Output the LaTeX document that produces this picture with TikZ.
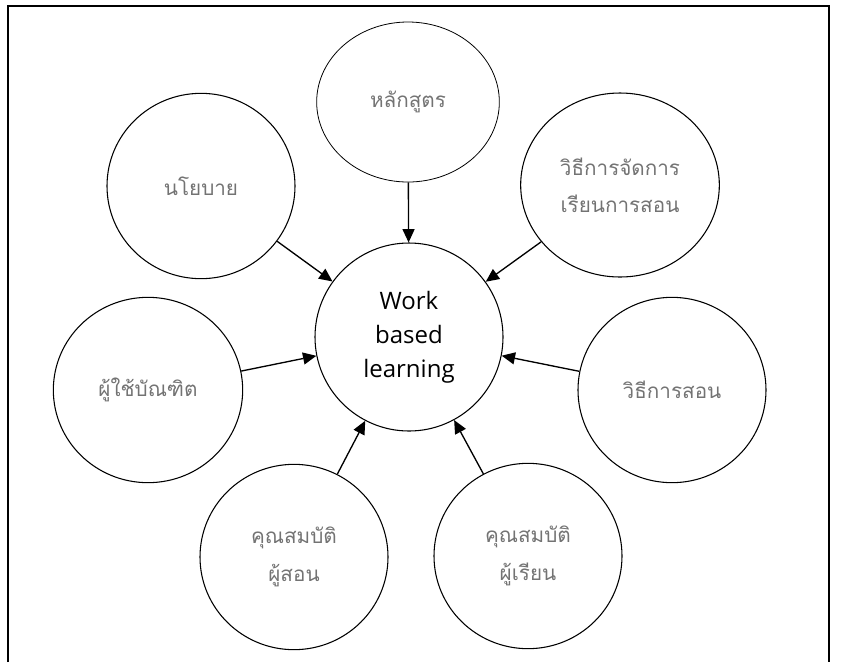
\documentclass[tikz,border=0pt]{standalone}
\usepackage{fontspec}
\setmainfont{Open Sans}
\newfontfamily\thaifont[Script=Thai]{Loma}
\usetikzlibrary{shapes,arrows.meta,positioning}

\begin{document}
\begin{tikzpicture}[
    x=0.75pt, y=-0.75pt,
    factor/.style={ellipse, draw, line width=0.8pt, inner sep=0pt, minimum width=141pt, minimum height=139pt, align=center, font=\thaifont\fontsize{15.5}{28}\selectfont, text=black!55},
    hub/.style={ellipse, draw, line width=0.8pt, inner sep=0pt, minimum width=141pt, minimum height=141pt, align=center, font=\fontsize{18}{25.5}\selectfont},
    arrow/.style={-{Triangle[length=10pt, width=9pt]}, line width=1pt}
]
\useasboundingbox (0,0) rectangle (843,662);

% Frame
\draw[line width=1.6pt] (8,662) -- (8,6) -- (829,6) -- (829,662);

% Centre
\node[hub] (wbl) at (409,337) {Work\\based\\learning};

% Factors around the centre
\node[factor, minimum width=137pt, minimum height=120pt, line width=0.6pt] (curriculum) at (408,102) {หลักสูตร};
\node[factor] (policy) at (201,186) {นโยบาย};
\node[factor, minimum width=149pt, minimum height=138pt] (mgmt) at (620,185) {วิธีการจัดการ\\เรียนการสอน};
\node[factor, minimum width=142pt] (users) at (148,390) {ผู้ใช้บัณฑิต};
\node[factor] (teaching) at (672,390) {วิธีการสอน};
\node[factor] (tutorq) at (294,557) {คุณสมบัติ\\ผู้สอน};
\node[factor] (learnerq) at (528,556) {คุณสมบัติ\\ผู้เรียน};

% Arrows into the centre
\draw[arrow] (curriculum) -- (wbl);
\draw[arrow] (policy) -- (wbl);
\draw[arrow] (mgmt) -- (wbl);
\draw[arrow] (users) -- (wbl);
\draw[arrow] (teaching) -- (wbl);
\draw[arrow] (tutorq) -- (wbl);
\draw[arrow] (learnerq) -- (wbl);

\end{tikzpicture}
\end{document}
